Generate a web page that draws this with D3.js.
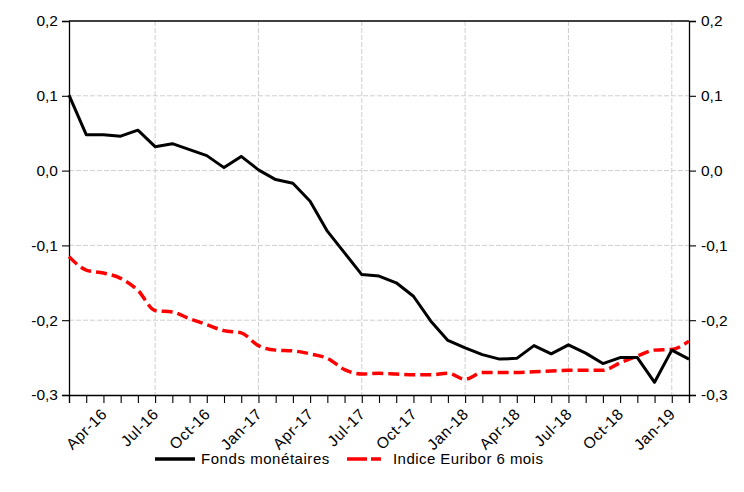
<!DOCTYPE html>
<html><head><meta charset="utf-8">
<script src="https://cdn.jsdelivr.net/npm/d3@7"></script>
<style>
body{margin:0;background:#fff;}
text{font-family:"Liberation Sans",Arial,sans-serif;}
</style></head>
<body><svg id="c" width="744" height="492"></svg>
<script>
const months = ["Feb-16","Mar-16","Apr-16","May-16","Jun-16","Jul-16","Aug-16","Sep-16","Oct-16","Nov-16","Dec-16",
"Jan-17","Feb-17","Mar-17","Apr-17","May-17","Jun-17","Jul-17","Aug-17","Sep-17","Oct-17","Nov-17","Dec-17",
"Jan-18","Feb-18","Mar-18","Apr-18","May-18","Jun-18","Jul-18","Aug-18","Sep-18","Oct-18","Nov-18","Dec-18",
"Jan-19","Feb-19"];
const fondsMonetaires = [0.101,0.048,0.048,0.046,0.054,0.032,0.036,0.028,0.020,0.004,0.019,
0.001,-0.012,-0.017,-0.041,-0.081,-0.110,-0.139,-0.141,-0.150,-0.168,-0.201,-0.227,
-0.237,-0.246,-0.252,-0.251,-0.234,-0.245,-0.233,-0.244,-0.258,-0.250,-0.250,-0.283,
-0.240,-0.252];
const euribor6m = [-0.115,-0.133,-0.137,-0.144,-0.160,-0.187,-0.189,-0.198,-0.206,-0.214,-0.217,
-0.234,-0.240,-0.241,-0.245,-0.251,-0.266,-0.272,-0.271,-0.272,-0.273,-0.273,-0.271,
-0.279,-0.270,-0.270,-0.270,-0.269,-0.268,-0.267,-0.267,-0.267,-0.257,-0.248,-0.240,
-0.239,-0.228];
const labelMonths = ["Apr-16","Jul-16","Oct-16","Jan-17","Apr-17","Jul-17","Oct-17","Jan-18","Apr-18","Jul-18","Oct-18","Jan-19"];
const gridMonths = ["Jul-16","Jan-17","Jul-17","Jan-18","Jul-18","Jan-19"];
const yTicks = [-0.3,-0.2,-0.1,0.0,0.1,0.2];
const seriesNames = ["Fonds monétaires","Indice Euribor 6 mois"];

const L=69,R=689,T=21,B=395;
const svg=d3.select("#c");
const x=d3.scalePoint().domain(months).range([L,R]);
const y=d3.scaleLinear().domain([-0.3,0.2]).range([B,T]);
const fmt=d=>d3.format(".1f")(d).replace(".",",").replace("−","-");

// grid
const g=svg.append("g");
g.selectAll(".gh").data(yTicks.filter(v=>v>-0.3&&v<0.2)).join("line")
 .attr("x1",L).attr("x2",R).attr("y1",d=>y(d)).attr("y2",d=>y(d))
 .attr("stroke","#cfcfcf").attr("stroke-width",1).attr("stroke-dasharray","5,2");
g.selectAll(".gv").data(gridMonths).join("line")
 .attr("x1",d=>x(d)).attr("x2",d=>x(d)).attr("y1",T).attr("y2",B)
 .attr("stroke","#cfcfcf").attr("stroke-width",1).attr("stroke-dasharray","5,2");

// axes
const la=svg.append("g").attr("transform",`translate(${L},0)`)
 .call(d3.axisLeft(y).tickValues(yTicks).tickFormat(fmt).tickSize(7).tickPadding(4));
const ra=svg.append("g").attr("transform",`translate(${R},0)`)
 .call(d3.axisRight(y).tickValues(yTicks).tickFormat(fmt).tickSize(7).tickPadding(5));
const ba=svg.append("g").attr("transform",`translate(0,${B})`)
 .call(d3.axisBottom(x).tickSize(8).tickFormat(d=>labelMonths.includes(d)?d:""));
[la,ra,ba].forEach(a=>{a.selectAll("path").attr("stroke","#000").attr("stroke-width",1.3);
 a.selectAll("line").attr("stroke","#000").attr("stroke-width",1.1);
 a.selectAll("text").attr("font-size",15.5).attr("fill","#000").attr("font-family","Liberation Sans, Arial, sans-serif");});
ba.selectAll("text").attr("text-anchor","end").attr("dy","0").attr("y",0).attr("font-size",15.5)
 .attr("letter-spacing","0.6px")
 .attr("transform","translate(4,20) rotate(-45)");
// top border
svg.append("line").attr("x1",L).attr("x2",R).attr("y1",T).attr("y2",T).attr("stroke","#000").attr("stroke-width",1.3);

// lines
svg.append("path").datum(euribor6m).attr("d",d3.line().x((d,i)=>x(months[i])).y(d=>y(d)).curve(d3.curveMonotoneX))
 .attr("fill","none").attr("stroke","#ff0000").attr("stroke-width",3.5).attr("stroke-dasharray","11,5");
svg.append("path").datum(fondsMonetaires).attr("d",d3.line().x((d,i)=>x(months[i])).y(d=>y(d)))
 .attr("fill","none").attr("stroke","#000").attr("stroke-width",3).attr("stroke-linejoin","round");

// legend
const lg=svg.append("g");
const items=[{x:155,w:40,c:"#000",dash:null,tx:201,ls:0.55},{x:347,w:34,c:"#ff0000",dash:"20,4",tx:393,ls:0.45}];
items.forEach((it,i)=>{
 lg.append("line").attr("x1",it.x).attr("x2",it.x+it.w).attr("y1",459).attr("y2",459)
  .attr("stroke",it.c).attr("stroke-width",3.5).attr("stroke-dasharray",it.dash);
 lg.append("text").attr("x",it.tx).attr("y",464).attr("font-size",15).attr("letter-spacing",it.ls+"px").text(seriesNames[i]);
});
</script></body></html>
